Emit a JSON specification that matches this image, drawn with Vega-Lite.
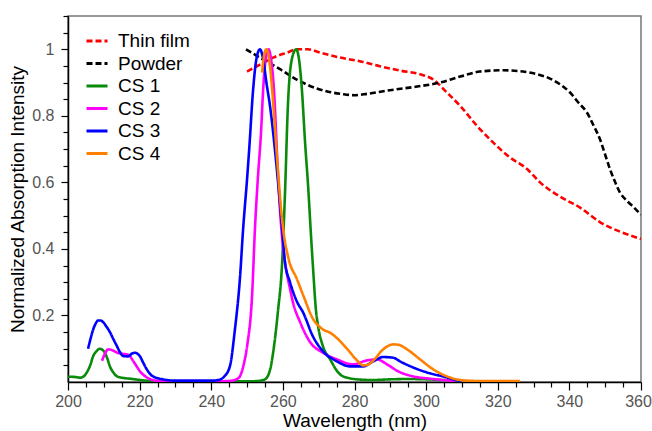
{
  "$schema": "https://vega.github.io/schema/vega-lite/v6.json",
  "width": 573,
  "height": 366,
  "autosize": {"type": "none"},
  "padding": {"left": 68, "top": 16, "right": 11, "bottom": 49},
  "background": "white",
  "config": {
    "font": "Liberation Sans",
    "view": {"stroke": "#777", "strokeWidth": 1.5},
    "axis": {"grid": false, "domainColor": "#000", "domainWidth": 1.5, "tickColor": "#000", "tickWidth": 1.2, "labelColor": "#555", "labelFontSize": 16, "labelFont": "Liberation Sans", "titleFont": "Liberation Sans", "titleFontSize": 19, "titleFontWeight": "normal", "titleColor": "#000"}
  },
  "data": {"values": [
    {"s":"Thin film","x":250,"y":0.933},{"s":"Thin film","x":253.6,"y":0.954},{"s":"Thin film","x":257.3,"y":0.975},{"s":"Thin film","x":261.2,"y":0.99},{"s":"Thin film","x":264,"y":1.0},{"s":"Thin film","x":267,"y":1.0},{"s":"Thin film","x":270.4,"y":0.99},{"s":"Thin film","x":276,"y":0.975},{"s":"Thin film","x":281.5,"y":0.964},{"s":"Thin film","x":287.1,"y":0.949},{"s":"Thin film","x":292.7,"y":0.936},{"s":"Thin film","x":298.3,"y":0.925},{"s":"Thin film","x":302,"y":0.909},{"s":"Thin film","x":305.8,"y":0.87},{"s":"Thin film","x":309.5,"y":0.83},{"s":"Thin film","x":314.2,"y":0.77},{"s":"Thin film","x":318.7,"y":0.72},{"s":"Thin film","x":323.4,"y":0.675},{"s":"Thin film","x":328.2,"y":0.64},{"s":"Thin film","x":331.8,"y":0.6},{"s":"Thin film","x":337.4,"y":0.557},{"s":"Thin film","x":343,"y":0.524},{"s":"Thin film","x":348.6,"y":0.48},{"s":"Thin film","x":354.1,"y":0.452},{"s":"Thin film","x":360,"y":0.43},
    {"s":"Powder","x":249.7,"y":1.0},{"s":"Powder","x":254.5,"y":0.969},{"s":"Powder","x":259.2,"y":0.94},{"s":"Powder","x":264,"y":0.908},{"s":"Powder","x":269.5,"y":0.882},{"s":"Powder","x":276.8,"y":0.865},{"s":"Powder","x":280,"y":0.862},{"s":"Powder","x":283.5,"y":0.866},{"s":"Powder","x":289.9,"y":0.877},{"s":"Powder","x":297.5,"y":0.888},{"s":"Powder","x":303.9,"y":0.9},{"s":"Powder","x":309.5,"y":0.918},{"s":"Powder","x":315,"y":0.933},{"s":"Powder","x":321.5,"y":0.937},{"s":"Powder","x":327,"y":0.933},{"s":"Powder","x":331,"y":0.925},{"s":"Powder","x":334.6,"y":0.912},{"s":"Powder","x":338,"y":0.89},{"s":"Powder","x":340.2,"y":0.87},{"s":"Powder","x":342.5,"y":0.84},{"s":"Powder","x":344.9,"y":0.81},{"s":"Powder","x":346.8,"y":0.77},{"s":"Powder","x":348.6,"y":0.728},{"s":"Powder","x":350,"y":0.683},{"s":"Powder","x":351.4,"y":0.638},{"s":"Powder","x":352.8,"y":0.6},{"s":"Powder","x":354.1,"y":0.57},{"s":"Powder","x":356,"y":0.545},{"s":"Powder","x":357.8,"y":0.527},{"s":"Powder","x":360,"y":0.503},
    {"s":"CS 1","x":200,"y":0.016},{"s":"CS 1","x":202,"y":0.015},{"s":"CS 1","x":203.4,"y":0.013},{"s":"CS 1","x":204.5,"y":0.018},{"s":"CS 1","x":205.3,"y":0.03},{"s":"CS 1","x":206.2,"y":0.05},{"s":"CS 1","x":207,"y":0.077},{"s":"CS 1","x":208,"y":0.093},{"s":"CS 1","x":208.9,"y":0.1},{"s":"CS 1","x":209.6,"y":0.097},{"s":"CS 1","x":210.3,"y":0.088},{"s":"CS 1","x":211,"y":0.07},{"s":"CS 1","x":211.7,"y":0.047},{"s":"CS 1","x":212.7,"y":0.028},{"s":"CS 1","x":213.7,"y":0.017},{"s":"CS 1","x":215.5,"y":0.012},{"s":"CS 1","x":217.3,"y":0.01},{"s":"CS 1","x":221,"y":0.005},{"s":"CS 1","x":225,"y":0.002},{"s":"CS 1","x":240,"y":0.002},{"s":"CS 1","x":250,"y":0.002},{"s":"CS 1","x":253,"y":0.003},{"s":"CS 1","x":255,"y":0.008},{"s":"CS 1","x":256.5,"y":0.04},{"s":"CS 1","x":257.3,"y":0.09},{"s":"CS 1","x":258.6,"y":0.21},{"s":"CS 1","x":259.8,"y":0.36},{"s":"CS 1","x":260.6,"y":0.57},{"s":"CS 1","x":261.4,"y":0.83},{"s":"CS 1","x":262.5,"y":0.97},{"s":"CS 1","x":263.7,"y":1.0},{"s":"CS 1","x":264.5,"y":0.97},{"s":"CS 1","x":265.3,"y":0.88},{"s":"CS 1","x":266.2,"y":0.72},{"s":"CS 1","x":267.1,"y":0.58},{"s":"CS 1","x":267.8,"y":0.45},{"s":"CS 1","x":268.5,"y":0.33},{"s":"CS 1","x":269.2,"y":0.22},{"s":"CS 1","x":269.8,"y":0.17},{"s":"CS 1","x":271.2,"y":0.107},{"s":"CS 1","x":273.2,"y":0.068},{"s":"CS 1","x":275,"y":0.035},{"s":"CS 1","x":276.8,"y":0.017},{"s":"CS 1","x":280.7,"y":0.008},{"s":"CS 1","x":285,"y":0.006},{"s":"CS 1","x":290,"y":0.008},{"s":"CS 1","x":295,"y":0.009},{"s":"CS 1","x":300,"y":0.008},{"s":"CS 1","x":305,"y":0.006},{"s":"CS 1","x":309,"y":0.005},
    {"s":"CS 2","x":209.5,"y":0.064},{"s":"CS 2","x":210.3,"y":0.085},{"s":"CS 2","x":211.2,"y":0.098},{"s":"CS 2","x":212.5,"y":0.095},{"s":"CS 2","x":213.7,"y":0.088},{"s":"CS 2","x":215,"y":0.085},{"s":"CS 2","x":216.5,"y":0.083},{"s":"CS 2","x":217.3,"y":0.078},{"s":"CS 2","x":217.9,"y":0.068},{"s":"CS 2","x":219,"y":0.05},{"s":"CS 2","x":220.1,"y":0.032},{"s":"CS 2","x":221,"y":0.022},{"s":"CS 2","x":222,"y":0.014},{"s":"CS 2","x":224.5,"y":0.004},{"s":"CS 2","x":228,"y":0.002},{"s":"CS 2","x":240,"y":0.002},{"s":"CS 2","x":245,"y":0.003},{"s":"CS 2","x":247,"y":0.008},{"s":"CS 2","x":248,"y":0.017},{"s":"CS 2","x":249,"y":0.05},{"s":"CS 2","x":250,"y":0.107},{"s":"CS 2","x":251.4,"y":0.26},{"s":"CS 2","x":252.2,"y":0.46},{"s":"CS 2","x":253,"y":0.61},{"s":"CS 2","x":253.9,"y":0.75},{"s":"CS 2","x":254.5,"y":0.88},{"s":"CS 2","x":255.2,"y":0.97},{"s":"CS 2","x":256,"y":1.0},{"s":"CS 2","x":256.7,"y":0.97},{"s":"CS 2","x":257.5,"y":0.88},{"s":"CS 2","x":258.6,"y":0.63},{"s":"CS 2","x":259.3,"y":0.5},{"s":"CS 2","x":260,"y":0.41},{"s":"CS 2","x":261.4,"y":0.31},{"s":"CS 2","x":262,"y":0.28},{"s":"CS 2","x":262.8,"y":0.24},{"s":"CS 2","x":264.8,"y":0.18},{"s":"CS 2","x":267.6,"y":0.12},{"s":"CS 2","x":271.2,"y":0.088},{"s":"CS 2","x":275.1,"y":0.068},{"s":"CS 2","x":279.6,"y":0.053},{"s":"CS 2","x":283.5,"y":0.065},{"s":"CS 2","x":286.3,"y":0.068},{"s":"CS 2","x":289.1,"y":0.053},{"s":"CS 2","x":292.2,"y":0.032},{"s":"CS 2","x":296.3,"y":0.017},{"s":"CS 2","x":301.1,"y":0.01},{"s":"CS 2","x":305.8,"y":0.005},{"s":"CS 2","x":308,"y":0.003},
    {"s":"CS 3","x":205.6,"y":0.1},{"s":"CS 3","x":206.3,"y":0.13},{"s":"CS 3","x":207,"y":0.157},{"s":"CS 3","x":207.7,"y":0.175},{"s":"CS 3","x":208.4,"y":0.185},{"s":"CS 3","x":209.1,"y":0.185},{"s":"CS 3","x":209.8,"y":0.18},{"s":"CS 3","x":210.7,"y":0.167},{"s":"CS 3","x":211.7,"y":0.15},{"s":"CS 3","x":212.7,"y":0.128},{"s":"CS 3","x":213.7,"y":0.107},{"s":"CS 3","x":214.5,"y":0.09},{"s":"CS 3","x":215.4,"y":0.078},{"s":"CS 3","x":216.8,"y":0.077},{"s":"CS 3","x":217.8,"y":0.085},{"s":"CS 3","x":218.7,"y":0.088},{"s":"CS 3","x":219.4,"y":0.085},{"s":"CS 3","x":220.1,"y":0.077},{"s":"CS 3","x":221,"y":0.058},{"s":"CS 3","x":222,"y":0.038},{"s":"CS 3","x":223.7,"y":0.017},{"s":"CS 3","x":226.5,"y":0.008},{"s":"CS 3","x":230,"y":0.004},{"s":"CS 3","x":240,"y":0.004},{"s":"CS 3","x":242,"y":0.006},{"s":"CS 3","x":243.5,"y":0.015},{"s":"CS 3","x":245.2,"y":0.047},{"s":"CS 3","x":246.6,"y":0.157},{"s":"CS 3","x":248,"y":0.31},{"s":"CS 3","x":248.9,"y":0.46},{"s":"CS 3","x":250,"y":0.61},{"s":"CS 3","x":250.6,"y":0.7},{"s":"CS 3","x":251.7,"y":0.88},{"s":"CS 3","x":252.6,"y":0.97},{"s":"CS 3","x":253.6,"y":1.0},{"s":"CS 3","x":254.5,"y":0.97},{"s":"CS 3","x":255.4,"y":0.9},{"s":"CS 3","x":256.4,"y":0.83},{"s":"CS 3","x":258.4,"y":0.63},{"s":"CS 3","x":259.8,"y":0.46},{"s":"CS 3","x":260.6,"y":0.36},{"s":"CS 3","x":262,"y":0.3},{"s":"CS 3","x":264,"y":0.24},{"s":"CS 3","x":265.6,"y":0.21},{"s":"CS 3","x":268.4,"y":0.137},{"s":"CS 3","x":271.2,"y":0.092},{"s":"CS 3","x":275.1,"y":0.062},{"s":"CS 3","x":278.7,"y":0.047},{"s":"CS 3","x":282.4,"y":0.047},{"s":"CS 3","x":285.2,"y":0.062},{"s":"CS 3","x":288,"y":0.075},{"s":"CS 3","x":290.8,"y":0.073},{"s":"CS 3","x":292.7,"y":0.062},{"s":"CS 3","x":296.3,"y":0.044},{"s":"CS 3","x":301.1,"y":0.026},{"s":"CS 3","x":305.8,"y":0.014},{"s":"CS 3","x":308.6,"y":0.005},{"s":"CS 3","x":310,"y":0.003},
    {"s":"CS 4","x":254.2,"y":0.93},{"s":"CS 4","x":254.8,"y":0.985},{"s":"CS 4","x":255.4,"y":1.0},{"s":"CS 4","x":256.1,"y":0.975},{"s":"CS 4","x":257,"y":0.88},{"s":"CS 4","x":257.8,"y":0.76},{"s":"CS 4","x":258.6,"y":0.64},{"s":"CS 4","x":259.4,"y":0.53},{"s":"CS 4","x":260.2,"y":0.45},{"s":"CS 4","x":261.6,"y":0.37},{"s":"CS 4","x":263.9,"y":0.31},{"s":"CS 4","x":265.7,"y":0.26},{"s":"CS 4","x":268.4,"y":0.19},{"s":"CS 4","x":271.2,"y":0.158},{"s":"CS 4","x":273.2,"y":0.148},{"s":"CS 4","x":275.1,"y":0.132},{"s":"CS 4","x":277.9,"y":0.1},{"s":"CS 4","x":280.7,"y":0.065},{"s":"CS 4","x":282.4,"y":0.05},{"s":"CS 4","x":283.7,"y":0.052},{"s":"CS 4","x":285.2,"y":0.064},{"s":"CS 4","x":288,"y":0.098},{"s":"CS 4","x":290.8,"y":0.113},{"s":"CS 4","x":292.2,"y":0.112},{"s":"CS 4","x":294.7,"y":0.098},{"s":"CS 4","x":298.3,"y":0.068},{"s":"CS 4","x":302,"y":0.038},{"s":"CS 4","x":305.8,"y":0.017},{"s":"CS 4","x":310.3,"y":0.005},{"s":"CS 4","x":315,"y":0.003},{"s":"CS 4","x":326.2,"y":0.003}
  ]},
  "mark": {"type": "line", "strokeWidth": 2.6, "interpolate": "monotone", "clip": true},
  "encoding": {
    "x": {"field": "x", "type": "quantitative", "scale": {"domain": [200, 360], "nice": false},
      "axis": {"title": "Wavelength (nm)", "values": [200,205,210,215,220,225,230,235,240,245,250,255,260,265,270,275,280,285,290,295,300,305,310,315,320,325,330,335,340,345,350,355,360],
        "labelExpr": "datum.value % 20 === 0 ? datum.label : ''", "tickSize": {"condition": {"test": "datum.value % 20 === 0", "value": 8}, "value": 5},
        "labelOffset": {"condition": {"test": "datum.value === 360", "value": -3}, "value": 0}, "labelPadding": 3, "titlePadding": 2, "labelFlush": false}},
    "y": {"field": "y", "type": "quantitative", "scale": {"domain": [0, 1.1], "nice": false, "zero": false},
      "axis": {"title": "Normalized Absorption Intensity", "values": [0.05,0.1,0.15,0.2,0.25,0.3,0.35,0.4,0.45,0.5,0.55,0.6,0.65,0.7,0.75,0.8,0.85,0.9,0.95,1,1.05,1.1],
        "labelExpr": "abs(datum.value*5 - round(datum.value*5)) < 0.001 ? format(datum.value, '~g') : ''",
        "tickSize": {"condition": {"test": "abs(datum.value*5 - round(datum.value*5)) < 0.001", "value": 7}, "value": 5}, "labelPadding": 7, "titlePadding": 4, "labelFlush": false}},
    "color": {"field": "s", "type": "nominal", "sort": ["Thin film","Powder","CS 1","CS 2","CS 3","CS 4"],
      "scale": {"domain": ["Thin film","Powder","CS 1","CS 2","CS 3","CS 4"], "range": ["#ff0000","#000000","#0a8a0a","#ff00ff","#0000ff","#ff8000"]},
      "legend": {"title": null, "orient": "none", "legendX": 17, "legendY": 13, "symbolType": "stroke", "symbolSize": 441, "symbolStrokeWidth": 3, "labelFontSize": 19, "labelFont": "Liberation Sans", "labelColor": "#000", "rowPadding": 0.5, "labelOffset": 9}},
    "strokeDash": {"field": "s", "type": "nominal", "sort": ["Thin film","Powder","CS 1","CS 2","CS 3","CS 4"],
      "scale": {"domain": ["Thin film","Powder","CS 1","CS 2","CS 3","CS 4"], "range": [[6,3],[6,3],[1,0],[1,0],[1,0],[1,0]]},
      "legend": {"title": null, "orient": "none", "legendX": 17, "legendY": 13, "symbolType": "stroke", "symbolSize": 441, "symbolStrokeWidth": 3, "labelFontSize": 19, "labelFont": "Liberation Sans", "labelColor": "#000", "rowPadding": 0.5, "labelOffset": 9}}
  }
}
